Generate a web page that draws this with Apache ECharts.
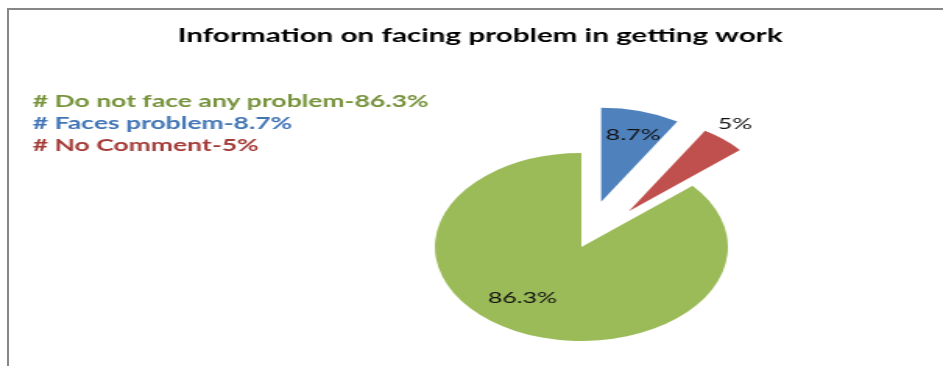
<!DOCTYPE html>
<html>
<head>
<meta charset="utf-8">
<script src="https://cdn.jsdelivr.net/npm/echarts@6/dist/echarts.min.js"></script>
<style>
  html, body { margin: 0; padding: 0; background: #fff; overflow: hidden; }
  /* the source picture is stretched sideways, so the chart is drawn narrow and widened */
  #chart { position: absolute; left: 0; top: 0; width: 605px; height: 366px;
           transform: scaleX(1.5587); transform-origin: 0 0; }
  #frame { position: absolute; left: 7px; top: 8px; width: 940px; height: 362px;
           border-top: 2px solid #878787; border-left: 2px solid #878787; }
</style>
</head>
<body>
<div id="frame"></div>
<div id="chart"></div>
<script>
// 数据
const titleText = 'Information on facing problem in getting work';
const categories = ['Faces problem', 'No Comment', 'Do not face any problem'];
const shares = [8.7, 5, 86.3];
const legendOrder = ['Do not face any problem', 'Faces problem', 'No Comment'];

const sliceColors = ['#4F81BD', '#C0504D', '#9BBB59'];
const legendColors = { 'Do not face any problem': '#77933C', 'Faces problem': '#4375B5', 'No Comment': '#A33C38' };
const exploded = [true, true, false];
// 标签微调 (像 Excel 的标签位置)
const labelNudge = [[7, -19], [-10, -14], [-17, 5]];

function init() {
    const chart = echarts.init(document.getElementById('chart'));

    const pieData = categories.map(function (name, i) {
        const item = {
            name: name,
            value: shares[i],
            selected: exploded[i],
            itemStyle: { color: sliceColors[i] }
        };
        if (name === 'No Comment') {
            item.label = { position: 'outside' };
            item.labelLine = { show: false, length: 2, length2: 0 };
        }
        return item;
    });

    chart.setOption({
        animation: false,
        title: {
            text: titleText,
            left: 303,
            textAlign: 'center',
            top: 21,
            textStyle: { fontFamily: 'Lato', fontWeight: 'bold', fontSize: 19, color: '#000' }
        },
        legend: {
            orient: 'vertical',
            left: 11,
            top: 86,
            icon: 'rect',
            itemWidth: 0,
            itemHeight: 0,
            itemGap: 0,
            selectedMode: false,
            data: legendOrder.map(function (n) {
                return { name: n, textStyle: { color: legendColors[n] } };
            }),
            formatter: function (name) {
                return '# ' + name + '-' + shares[categories.indexOf(name)] + '%';
            },
            textStyle: { fontFamily: 'Lato', fontWeight: 'bold', fontSize: 17, lineHeight: 22 }
        },
        series: [{
            type: 'pie',
            center: [373, 247],
            radius: 94,
            startAngle: 90,
            clockwise: true,
            selectedMode: 'multiple',
            selectedOffset: 47,
            avoidLabelOverlap: false,
            emphasis: { disabled: true },
            label: {
                position: 'inside',
                formatter: '{c}%',
                fontFamily: 'Lato',
                fontSize: 16,
                color: '#111'
            },
            labelLayout: function (p) {
                return { dx: labelNudge[p.dataIndex][0], dy: labelNudge[p.dataIndex][1] };
            },
            data: pieData
        }]
    });
}

window.addEventListener('DOMContentLoaded', init);
</script>
</body>
</html>
